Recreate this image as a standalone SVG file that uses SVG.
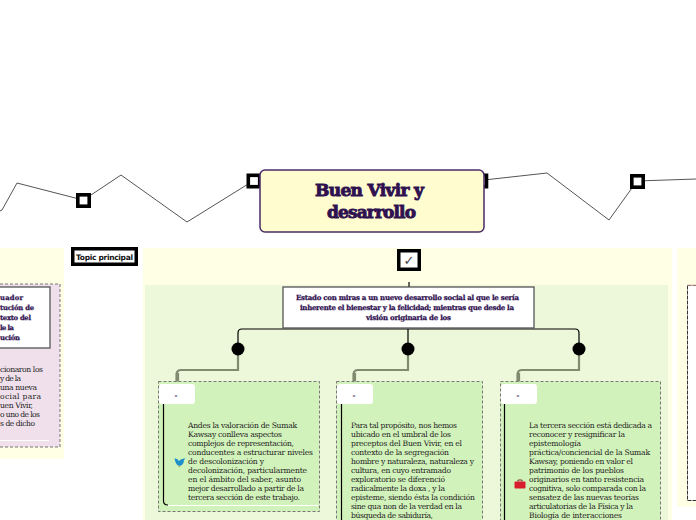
<svg xmlns="http://www.w3.org/2000/svg" width="696" height="520" viewBox="0 0 696 520">
<style>
.body{font-family:"DejaVu Serif","Liberation Serif",serif;font-size:7.6px;fill:#222}
.head{font-family:"DejaVu Serif","Liberation Serif",serif;font-weight:bold;fill:#2f1150;stroke:#2f1150;stroke-width:.25}
.sq{fill:#fff;stroke:#000;stroke-width:3.6}
.line{fill:none;stroke:#555;stroke-width:1}
.conn{fill:none;stroke:#000;stroke-width:1.2}
.grey{fill:none;stroke:#7f8c70;stroke-width:2.2}
.card{fill:#d2f2bb;stroke:#777;stroke-width:1;stroke-dasharray:3 2}
.lab{fill:#fff}
.dash{font-family:"DejaVu Sans",sans-serif;font-size:7px;font-weight:bold;fill:#2f1150;text-anchor:middle}
</style>
<rect width="696" height="520" fill="#fff"/>
<g id="panels">
<rect x="0" y="248" width="64" height="211" fill="#ffffe6"/>
<rect x="143" y="248" width="529" height="272" fill="#ffffe6"/>
<rect x="677" y="248" width="19" height="259" fill="#ffffe6"/>
<rect x="145" y="285" width="523" height="235" fill="#edf7da"/>
</g>
<g id="connectors">
<polyline class="line" points="0,211 2,210 17,183 83,200"/>
<polyline class="line" points="91,195 121,175 187,222 253,181"/>
<polyline class="line" points="484,180 547,173 609,220 637,181 696,179"/>
<path class="conn" stroke-width="2" d="M409 282V287"/>
<path class="conn" d="M238 349V333Q238 329 242 329H575Q579 329 579 333V349M408 329V349"/>
<path class="grey" d="M238 355V370H181Q177 370 176.500 374V382M178 373V382"/>
<path class="grey" d="M408 355V370H358Q354 370 353.500 374V382M355 373V382"/>
<path class="grey" d="M579 355V370H522Q518 370 517.500 374V382M519 373V382"/>
<circle cx="238" cy="349" r="6.5"/>
<circle cx="408" cy="349" r="6.5"/>
<circle cx="579" cy="349" r="6.5"/>
</g>
<g id="node-left">
<rect x="-5" y="284" width="65" height="163" fill="#efe0eb" stroke="#777" stroke-dasharray="3 2"/>
<rect x="-5" y="287" width="55" height="61" fill="#fff" stroke="#555" stroke-width="1.300"/>
<g class="head" font-size="6.8">
<text x="0" y="300" textLength="23">uador</text>
<text x="0" y="310" textLength="34">tución de</text>
<text x="0" y="320" textLength="31">texto del</text>
<text x="0" y="330" textLength="14">le la</text>
<text x="0" y="340" textLength="20">ución</text>
</g>
<g class="body">
<text x="0" y="372" textLength="43">cionaron los</text>
<text x="0" y="381" textLength="21">y de la</text>
<text x="0" y="390" textLength="37">una nueva</text>
<text x="0" y="399" textLength="41">ocial para</text>
<text x="0" y="408" textLength="33">uen Vivir,</text>
<text x="0" y="417" textLength="40">o uno de los</text>
<text x="0" y="426" textLength="35">s de dicho</text>
</g>
<path d="M0 440.500H49" stroke="#fff" stroke-width="1"/>
</g>
<g id="node-topic">
<rect x="72.750" y="248.750" width="63.500" height="15.500" fill="#fff" stroke="#000" stroke-width="3.500"/>
<text x="104.500" y="259.500" font-family="'DejaVu Sans',sans-serif" font-size="7.500" font-weight="bold" fill="#111" text-anchor="middle" textLength="57">Topic principal</text>
</g>
<g id="marker-1"><rect class="sq" x="77.800" y="194.800" width="11.400" height="11.400"/></g>
<g id="marker-2"><rect class="sq" x="248.300" y="175.300" width="11.400" height="11.400"/></g>
<g id="marker-3"><rect class="sq" x="476" y="175.300" width="10.500" height="11.400"/></g>
<g id="marker-4"><rect class="sq" x="631.800" y="175.800" width="11.400" height="11.400"/></g>
<g id="node-title">
<rect x="260" y="170" width="224" height="62" rx="5" fill="#fffdcf" stroke="#4a2a68" stroke-width="1.500"/>
<text class="head" x="369.500" y="196" font-size="17" text-anchor="middle" textLength="109" style="stroke-width:.9">Buen Vivir y</text>
<text class="head" x="371.500" y="218" font-size="17" text-anchor="middle" textLength="89" style="stroke-width:.9">desarrollo</text>
</g>
<g id="node-check">
<rect x="398.750" y="250.750" width="20.500" height="18.500" fill="#fff" stroke="#000" stroke-width="3.500"/>
<text x="409" y="265" font-family="'DejaVu Sans',sans-serif" font-size="13" fill="#444" text-anchor="middle">✓</text>
</g>
<g id="node-main">
<rect x="283" y="287" width="251" height="41" fill="#fff" stroke="#555" stroke-width="1.300"/>
<g class="head" font-size="7">
<text x="296" y="300" textLength="223">Estado con miras a un nuevo desarrollo social al que le sería</text>
<text x="300" y="310" textLength="214">inherente el bienestar y la felicidad; mientras que desde la</text>
<text x="366" y="320" textLength="85">visión originaria de los</text>
</g>
</g>
<g id="node-card-1">
<rect class="card" x="158.500" y="381.500" width="161" height="130"/>
<rect class="lab" x="159" y="384" width="36" height="20" rx="3"/>
<text class="dash" x="176" y="398">-</text>
<path d="M163.500 404V501Q163.500 505 168 505" fill="none" stroke="#000" stroke-width="1.200"/>
<path d="M168 505.500H318" stroke="#fff"/>
<g class="body">
<text x="188" y="428" textLength="109">Andes la valoración de Sumak</text>
<text x="188" y="437" textLength="94">Kawsay conlleva aspectos</text>
<text x="188" y="446" textLength="106">complejos de representación,</text>
<text x="188" y="455" textLength="125">conducentes a estructurar niveles</text>
<text x="188" y="464" textLength="76">de descolonización y</text>
<text x="188" y="473" textLength="119">decolonización, particularmente</text>
<text x="188" y="482" textLength="113">en el ámbito del saber, asunto</text>
<text x="188" y="491" textLength="116">mejor desarrollado a partir de la</text>
<text x="188" y="500" textLength="112">tercera sección de este trabajo.</text>
</g>
<path d="M174.500 458.500Q177.500 458 179 461Q181 458 185.500 458.500L184 460Q184 465 179.500 466Q175.500 465 174.500 458.500Z" fill="#1f8fc8"/>
<path d="M178 466L181 466L179.500 467.500Z" fill="#b8c060"/>
</g>
<g id="node-card-2">
<rect class="card" x="336.500" y="381.500" width="146" height="150"/>
<rect class="lab" x="337" y="384" width="36" height="20" rx="3"/>
<text class="dash" x="354" y="398">-</text>
<path d="M341.500 404V520" stroke="#000" stroke-width="1.200"/>
<g class="body">
<text x="351" y="428" textLength="106">Para tal propósito, nos hemos</text>
<text x="351" y="437" textLength="100">ubicado en el umbral de los</text>
<text x="351" y="446" textLength="111">preceptos del Buen Vivir, en el</text>
<text x="351" y="455" textLength="98">contexto de la segregación</text>
<text x="351" y="464" textLength="123">hombre y naturaleza, naturaleza y</text>
<text x="351" y="473" textLength="100">cultura, en cuyo entramado</text>
<text x="351" y="482" textLength="94">exploratorio se diferenció</text>
<text x="351" y="491" textLength="94">radicalmente la doxa , y la</text>
<text x="351" y="500" textLength="124">episteme, siendo ésta la condición</text>
<text x="351" y="509" textLength="111">sine qua non de la verdad en la</text>
<text x="351" y="518" textLength="82">búsqueda de sabiduría,</text>
</g>
</g>
<g id="node-card-3">
<rect class="card" x="500.500" y="381.500" width="160" height="150"/>
<rect class="lab" x="501" y="384" width="36" height="20" rx="3"/>
<text class="dash" x="518" y="398">-</text>
<path d="M504.500 404V520" stroke="#000" stroke-width="1.200"/>
<g class="body">
<text x="529" y="428" textLength="123">La tercera sección está dedicada a</text>
<text x="529" y="437" textLength="96">reconocer y resignificar la</text>
<text x="529" y="446" textLength="52">epistemología</text>
<text x="529" y="455" textLength="121">práctica/conciencial de la Sumak</text>
<text x="529" y="464" textLength="104">Kawsay, poniendo en valor el</text>
<text x="529" y="473" textLength="95">patrimonio de los pueblos</text>
<text x="529" y="482" textLength="115">originarios en tanto resistencia</text>
<text x="529" y="491" textLength="117">cognitiva, solo comparada con la</text>
<text x="529" y="500" textLength="110">sensatez de las nuevas teorías</text>
<text x="529" y="509" textLength="104">articulatorias de la Física y la</text>
<text x="529" y="518" textLength="93">Biología de interacciones</text>
</g>
<rect x="514.500" y="481.500" width="11" height="7" rx="1" fill="#d81e2c"/>
<path d="M518 481.500V480H522V481.500" fill="none" stroke="#8a2a30"/>
</g>
<g id="node-right">
<rect x="687.500" y="285.500" width="12" height="215" fill="#fff" stroke="#333" stroke-dasharray="4 1"/>
<path d="M687 285H696" stroke="#eebfae" stroke-width="1"/>
</g>
</svg>
